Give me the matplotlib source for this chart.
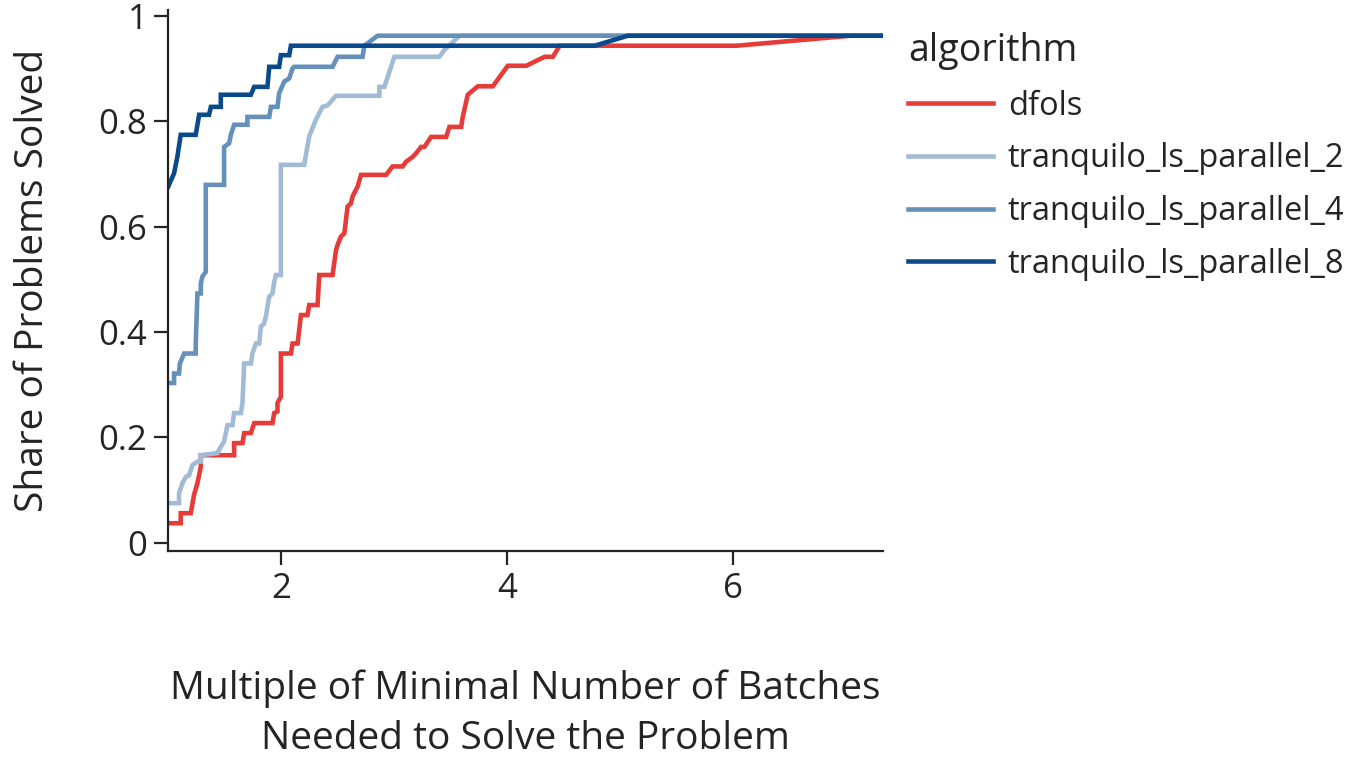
import matplotlib
matplotlib.use("Agg")
import matplotlib.pyplot as plt

plt.rcParams['font.family'] = ['Open Sans', 'DejaVu Sans']

# performance profiles
dfols_x = [1.0, 1.110, 1.110, 1.199, 1.228, 1.258, 1.288, 1.288, 1.583, 1.583, 1.657, 1.672,
           1.731, 1.761, 1.923, 1.938, 1.967, 1.967, 1.997, 1.997, 2.086, 2.100, 2.145, 2.175,
           2.233, 2.248, 2.322, 2.337, 2.455, 2.485, 2.499, 2.529, 2.559, 2.588, 2.618, 2.632,
           2.677, 2.707, 2.929, 2.987, 3.076, 3.106, 3.164, 3.195, 3.239, 3.268, 3.328, 3.461,
           3.490, 3.594, 3.608, 3.652, 3.741, 3.874, 4.007, 4.170, 4.333, 4.406, 4.466, 6.033,
           7.040, 7.330]
dfols_y = [0.037, 0.037, 0.056, 0.056, 0.091, 0.113, 0.144, 0.166, 0.166, 0.189, 0.189, 0.208,
           0.208, 0.227, 0.227, 0.246, 0.249, 0.265, 0.277, 0.359, 0.359, 0.378, 0.378, 0.432,
           0.432, 0.451, 0.451, 0.508, 0.508, 0.555, 0.565, 0.581, 0.587, 0.638, 0.644, 0.657,
           0.676, 0.698, 0.698, 0.714, 0.714, 0.723, 0.732, 0.739, 0.751, 0.751, 0.770, 0.770,
           0.789, 0.789, 0.808, 0.850, 0.866, 0.866, 0.905, 0.905, 0.922, 0.922, 0.943, 0.943,
           0.962, 0.962]

tq2_x = [1.0, 1.095, 1.095, 1.125, 1.155, 1.184, 1.213, 1.258, 1.288, 1.288, 1.435, 1.465,
         1.494, 1.524, 1.568, 1.583, 1.643, 1.657, 1.672, 1.731, 1.745, 1.776, 1.805, 1.820,
         1.849, 1.864, 1.894, 1.923, 1.938, 1.953, 1.997, 1.997, 2.204, 2.219, 2.248, 2.308,
         2.337, 2.366, 2.411, 2.485, 2.869, 2.869, 2.914, 3.002, 3.400, 3.450, 3.580, 7.330]
tq2_y = [0.075, 0.075, 0.094, 0.113, 0.125, 0.128, 0.147, 0.154, 0.154, 0.166, 0.170, 0.182,
         0.192, 0.223, 0.223, 0.246, 0.246, 0.265, 0.340, 0.340, 0.359, 0.378, 0.378, 0.410,
         0.416, 0.429, 0.467, 0.473, 0.495, 0.508, 0.508, 0.717, 0.717, 0.736, 0.771, 0.803,
         0.815, 0.827, 0.830, 0.848, 0.848, 0.865, 0.865, 0.922, 0.922, 0.936, 0.962, 0.962]

tq4_x = [1.0, 1.051, 1.051, 1.095, 1.102, 1.140, 1.243, 1.243, 1.258, 1.288, 1.288, 1.302,
         1.332, 1.332, 1.494, 1.494, 1.539, 1.554, 1.583, 1.701, 1.701, 1.894, 1.909, 1.967,
         1.982, 2.027, 2.071, 2.100, 2.115, 2.455, 2.499, 2.721, 2.736, 2.854, 7.330]
tq4_y = [0.303, 0.303, 0.321, 0.321, 0.340, 0.359, 0.359, 0.378, 0.473, 0.473, 0.492, 0.505,
         0.514, 0.679, 0.679, 0.751, 0.758, 0.774, 0.793, 0.793, 0.808, 0.808, 0.827, 0.827,
         0.853, 0.875, 0.881, 0.900, 0.903, 0.903, 0.922, 0.922, 0.943, 0.962, 0.962]

tq8_x = [1.0, 1.051, 1.080, 1.110, 1.243, 1.273, 1.361, 1.377, 1.465, 1.465, 1.731, 1.761,
         1.878, 1.894, 1.982, 1.997, 2.071, 2.086, 4.776, 5.071, 7.330]
tq8_y = [0.676, 0.701, 0.732, 0.774, 0.774, 0.812, 0.812, 0.827, 0.827, 0.850, 0.850, 0.865,
         0.865, 0.903, 0.903, 0.925, 0.925, 0.943, 0.943, 0.962, 0.962]

names = ["dfols", "tranquilo_ls_parallel_2", "tranquilo_ls_parallel_4", "tranquilo_ls_parallel_8"]
colors = ["#e63c39", "#a1bad5", "#6590ba", "#0b4a8a"]
series = [(dfols_x, dfols_y), (tq2_x, tq2_y), (tq4_x, tq4_y), (tq8_x, tq8_y)]

ink = "#242424"

fig = plt.figure(figsize=(13.63, 7.60), dpi=100)
ax = fig.add_axes([168.3 / 1363, 1 - 551 / 760, (883 - 168.3) / 1363, (551 - 10) / 760])

for (xs, ys), name, color in zip(series, names, colors):
    ax.plot(xs, ys, color=color, lw=3.3, label=name, solid_joinstyle='miter')

ax.set_xlim(1.0, 7.33)
ax.set_ylim(-0.0157, 1.0108)
ax.set_xticks([2, 4, 6])
ax.set_yticks([0, 0.2, 0.4, 0.6, 0.8, 1.0])
ax.set_yticklabels(["0", "0.2", "0.4", "0.6", "0.8", "1"])

for side in ["top", "right"]:
    ax.spines[side].set_visible(False)
for side in ["left", "bottom"]:
    ax.spines[side].set_color(ink)
    ax.spines[side].set_linewidth(1.6)
ax.tick_params(colors=ink, labelcolor=ink, labelsize=25, length=10, width=1.6, pad=5)

ax.set_ylabel("Share of Problems Solved", fontsize=28, color=ink)
ax.yaxis.set_label_coords(-0.163, 0.5)
ax.set_xlabel("Multiple of Minimal Number of Batches\nNeeded to Solve the Problem",
              fontsize=28, color=ink, linespacing=1.42)
ax.xaxis.set_label_coords(0.5, -0.218)

leg = ax.legend(loc="upper left", bbox_to_anchor=(892 / 1363, 1 - 16 / 760),
                bbox_transform=fig.transFigure, frameon=False, fontsize=23.5,
                title="algorithm", title_fontsize=27, alignment="left",
                handlelength=2.6, handletextpad=0.45, labelspacing=0.6, borderpad=0)
for t in leg.get_texts():
    t.set_color(ink)
leg.get_title().set_color(ink)

fig.savefig("out.png", dpi=100)
